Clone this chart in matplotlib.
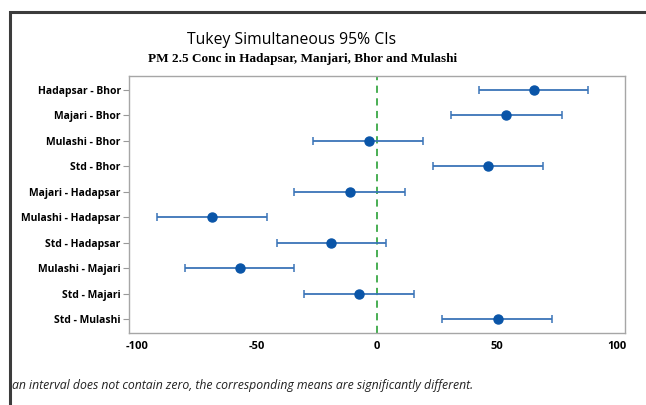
import matplotlib
matplotlib.use("Agg")
import matplotlib.pyplot as plt
from matplotlib.patches import Rectangle

comparisons = ["Hadapsar - Bhor", "Majari - Bhor", "Mulashi - Bhor", "Std - Bhor",
               "Majari - Hadapsar", "Mulashi - Hadapsar", "Std - Hadapsar",
               "Mulashi - Majari", "Std - Majari", "Std - Mulashi"]
diff = [65.4, 53.7, -3.5, 46.5, -11.3, -69.0, -19.1, -57.3, -7.4, 50.4]
lower = [42.6, 31.0, -26.8, 23.2, -34.6, -91.9, -41.9, -80.3, -30.3, 27.1]
upper = [88.2, 77.1, 19.3, 69.4, 11.7, -46.0, 3.9, -34.5, 15.6, 73.2]
xticks = [-100, -50, 0, 50, 100]

fig = plt.figure(figsize=(6.46, 4.05), dpi=100)
ax = fig.add_axes([0.1997, 0.1778, 0.7678, 0.6346])

# outer frame, runs off the right and bottom edges like the screenshot
fig.patches.append(Rectangle((9.5 / 646, -0.1), 1.2, 1.1 - 12 / 405,
                             transform=fig.transFigure, fill=False,
                             edgecolor="#3c3c3c", linewidth=2.2))

ypos = list(range(len(comparisons)))
err_lo = [d - l for d, l in zip(diff, lower)]
err_hi = [u - d for d, u in zip(diff, upper)]
ax.axvline(0, color="#3aa845", linestyle=(0, (4, 3)), linewidth=1.3, zorder=1)
ax.errorbar(diff, ypos, xerr=[err_lo, err_hi], fmt="o", color="#0a55a8",
            ecolor="#3a74b8", elinewidth=1.3, capsize=3, capthick=1.1,
            markersize=6.5, zorder=3)

ax.set_xlim(-103.5, 103.5)
ax.set_ylim(len(comparisons) - 0.45, -0.55)
ax.set_yticks(ypos)
ax.set_yticklabels(comparisons, fontsize=7.5, fontweight="bold", family="Open Sans")
ax.set_xticks(xticks)
ax.set_xticklabels([str(t) for t in xticks], fontsize=8, fontweight="bold", family="Open Sans")
ax.tick_params(axis="x", length=0, pad=6)
ax.tick_params(axis="y", length=4, color="#999999", pad=2)
for s in ax.spines.values():
    s.set_color("#a6a6a6")
    s.set_linewidth(1.0)

fig.text(0.452, 1 - 40 / 405, "Tukey Simultaneous 95% CIs", ha="center", va="center",
         fontsize=11.3, family="Open Sans")
fig.text(0.469, 1 - 59 / 405, "PM 2.5 Conc in Hadapsar, Manjari, Bhor and Mulashi",
         ha="center", va="center", fontsize=9.5, fontweight="bold", family="Liberation Serif")
fig.text(12 / 646, 1 - 385 / 405,
         "an interval does not contain zero, the corresponding means are significantly different.",
         ha="left", va="center", fontsize=8.8, style="italic", family="Open Sans", color="#222222")

fig.savefig("out.png", dpi=100)
